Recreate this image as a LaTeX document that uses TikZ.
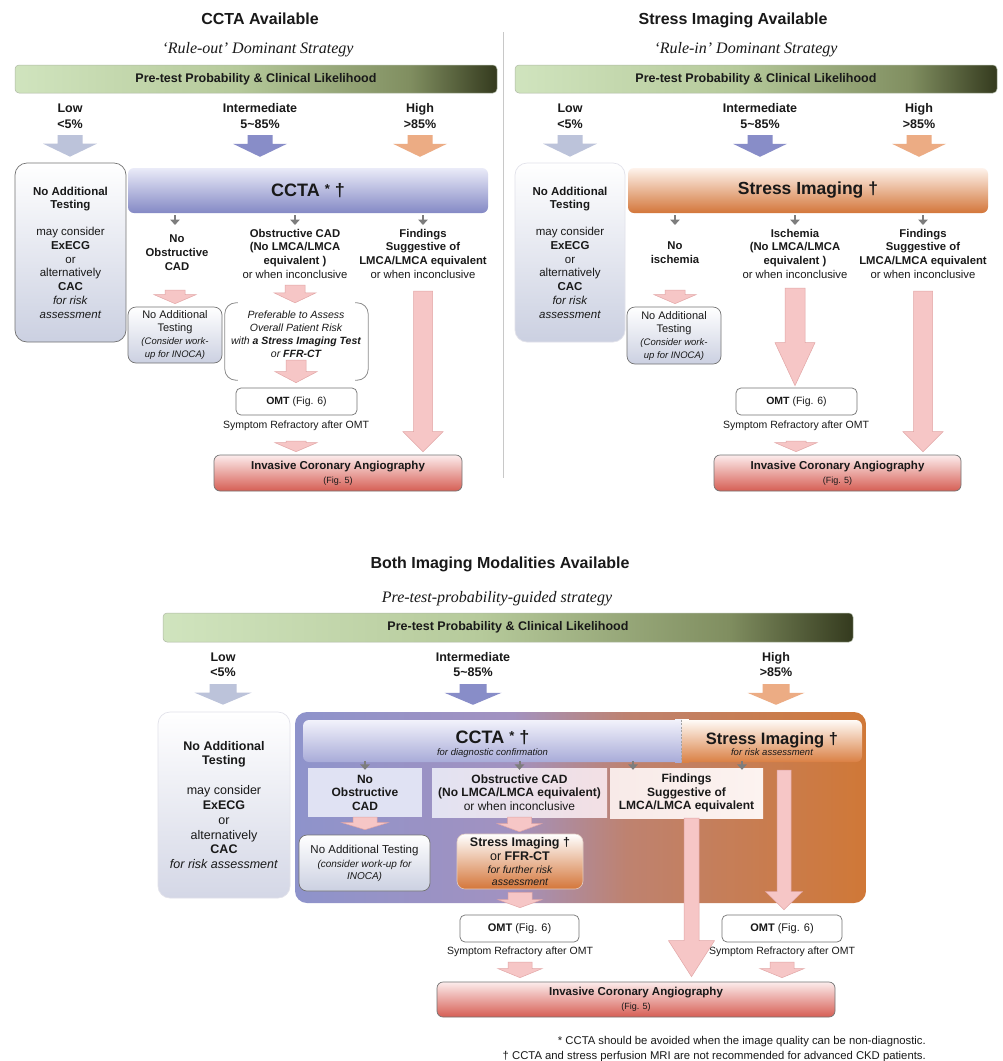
\documentclass[tikz,border=0pt]{standalone}
\usepackage{fontspec}
\setmainfont{Liberation Sans}
\newfontfamily\tnr{Liberation Serif}
\usetikzlibrary{arrows.meta,calc}
\newcommand\fs[2]{\fontsize{#1}{#2}\selectfont}
\newcommand\tld{\char"7E\relax}
\newcommand\rast{{\fs{13}{13}\raisebox{3pt}{*}}}
\definecolor{txt}{RGB}{25,25,25}
\definecolor{gbA}{RGB}{208,228,190}
\definecolor{gbB}{RGB}{182,202,155}
\definecolor{gbC}{RGB}{128,142,96}
\definecolor{gbD}{RGB}{52,58,30}
\definecolor{gbE}{RGB}{175,185,165}
\definecolor{lowC}{RGB}{188,195,218}
\definecolor{intC}{RGB}{136,141,200}
\definecolor{highC}{RGB}{236,172,132}
\definecolor{pinkF}{RGB}{246,198,198}
\definecolor{pinkD}{RGB}{226,166,166}
\definecolor{arrG}{RGB}{125,125,125}
\definecolor{cctaT}{RGB}{234,235,248}
\definecolor{cctaB}{RGB}{132,137,197}
\definecolor{stT}{RGB}{254,243,236}
\definecolor{stB}{RGB}{211,118,58}
\definecolor{boxD}{RGB}{115,115,115}
\definecolor{boxL}{RGB}{226,226,234}
\definecolor{boxBot}{RGB}{203,208,225}
\definecolor{icaT}{RGB}{252,236,236}
\definecolor{icaB}{RGB}{214,94,84}
\definecolor{brkC}{RGB}{140,140,140}
\definecolor{sepC}{RGB}{200,200,200}
\definecolor{cA}{RGB}{142,147,203}
\definecolor{cB}{RGB}{162,146,192}
\definecolor{cC}{RGB}{190,130,112}
\definecolor{cD}{RGB}{208,120,55}
\definecolor{bcT}{RGB}{242,242,251}
\definecolor{bcB}{RGB}{168,171,216}
\definecolor{bsT}{RGB}{255,251,247}
\definecolor{bsB}{RGB}{218,128,68}
\definecolor{noF}{RGB}{224,226,243}
\definecolor{obL}{RGB}{226,226,242}
\definecolor{obR}{RGB}{243,224,228}
\definecolor{fiL}{RGB}{248,234,232}
\definecolor{fiR}{RGB}{252,243,240}
\definecolor{bstB}{RGB}{212,118,58}
\definecolor{bstD}{RGB}{225,205,195}
\definecolor{lbBot}{RGB}{212,215,230}
\pgfdeclarehorizontalshading{greenbar}{100bp}{color(0bp)=(gbA); color(25bp)=(gbA); color(48bp)=(gbB); color(66bp)=(gbC); color(75bp)=(gbD); color(100bp)=(gbD)}
\pgfdeclarehorizontalshading{contshade}{100bp}{color(0bp)=(cA); color(25bp)=(cA); color(44bp)=(cB); color(54bp)=(cC); color(75bp)=(cD); color(100bp)=(cD)}
\begin{document}
\begin{tikzpicture}[x=1pt,y=-1pt,
  every node/.append style={text=txt,inner sep=0pt},
  fat/.style n args={3}{to path={let \p1=(\tikztostart), \p2=(\tikztotarget) in
     (\x1-#1,\y1) -- (\x1+#1,\y1) -- (\x1+#1,\y2+#3) -- (\x1+#2,\y2+#3) -- (\x1,\y2)
     -- (\x1-#2,\y2+#3) -- (\x1-#1,\y2+#3) -- cycle}},
  titl/.style={font=\bfseries\fs{16}{19}, anchor=base},
  subt/.style={font=\tnr\itshape\fs{16}{19}, anchor=base},
  ptp/.style={shade, shading=greenbar, draw=gbE, line width=0.5pt, rounded corners=4pt, font=\bfseries\fs{12.5}{15}},
  lab/.style={font=\bfseries\fs{12.5}{16}, align=center, anchor=north},
  tx/.style={font=\bfseries\fs{11.3}{13.7}, align=center, anchor=north},
  lbox/.style={rounded corners=12pt, top color=white, bottom color=boxBot, draw=boxD, line width=0.7pt, align=center, font=\fs{11.5}{13.7}},
  natbox/.style={rounded corners=8pt, top color=white, bottom color=boxBot, draw=boxD, line width=0.7pt, align=center, font=\fs{11}{13}},
  omtbox/.style={rounded corners=5pt, fill=white, draw=boxD, line width=0.7pt, font=\fs{10.5}{12}},
  icabox/.style={rounded corners=6pt, top color=icaT, bottom color=icaB, draw=boxD, line width=0.7pt, align=center, font=\fs{11.5}{14}},
  symt/.style={font=\fs{10.5}{12}, anchor=base},
  smallarr/.style={draw=arrG, line width=2.3pt, -{Triangle[length=5.5pt,width=9.5pt]}},
  pinkA/.style={fill=pinkF, draw=pinkD, line width=0.5pt},
  brk/.style={draw=brkC, line width=0.8pt, rounded corners=11pt},
  ctbar/.style={rounded corners=6pt, top color=cctaT, bottom color=cctaB, font=\bfseries\fs{18}{20}},
  stbar/.style={rounded corners=6pt, top color=stT, bottom color=stB, font=\bfseries\fs{17.5}{20}},
  catL/.style={fill=lowC, fat={12.5pt}{27pt}{13pt}},
  catI/.style={fill=intC, fat={12.5pt}{27pt}{13pt}},
  catH/.style={fill=highC, fat={12.5pt}{27pt}{13pt}},
  bcatL/.style={fill=lowC, fat={13.5pt}{28.5pt}{12pt}},
  bcatI/.style={fill=intC, fat={13.5pt}{28.5pt}{12pt}},
  bcatH/.style={fill=highC, fat={13.5pt}{28.5pt}{12pt}}
]
\fill[white] (0,0) rectangle (1003,1061);
\useasboundingbox (0,0) rectangle (1003,1061);

% separator
\draw[sepC, line width=0.8pt] (503,32) -- (503,478);

% ================= TOP LEFT =================
\node[titl] (tl-title) at (260,24.7) {CCTA Available};
\node[subt] (tl-sub) at (258,53.3) {‘Rule-out’ Dominant Strategy};
\node[ptp, minimum width=482pt, minimum height=28pt] (tl-bar) at (256,79) {Pre-test Probability \& Clinical Likelihood};
\node[lab] (tl-low) at (70,103.4) {Low\\<5\%};
\node[lab] (tl-int) at (260,103.4) {Intermediate\\5\tld85\%};
\node[lab] (tl-high) at (420,103.4) {High\\>85\%};

\node[lbox, minimum width=111pt, minimum height=179pt] (tl-left) at (70.5,252.5)
 {\textbf{No Additional}\\\textbf{Testing}\\[13.3pt]may consider\\\textbf{ExECG}\\or\\alternatively\\\textbf{CAC}\\\textit{for risk}\\\textit{assessment}};
\node[ctbar, minimum width=360pt, minimum height=45pt] (tl-ccta) at (308,190.5) {CCTA \rast\ †};

\path[catL] ([yshift=-31.6pt]tl-low.north) to ([yshift=6pt]tl-left.north);
\path[catI] ([yshift=-31.6pt]tl-int.north) to ([yshift=11pt]tl-ccta.north);
\path[catH] ([yshift=-31.6pt]tl-high.north) to ([yshift=11pt]tl-ccta.north);

\node[tx] (tl-noobs) at (177,234.8) {No\\Obstructive\\CAD};
\node[tx] (tl-obs) at (295,228.8) {Obstructive CAD\\(No LMCA/LMCA\\equivalent )\\\mdseries or when inconclusive};
\node[tx] (tl-find) at (423,228.8) {Findings\\Suggestive of\\LMCA/LMCA equivalent\\\mdseries or when inconclusive};
\draw[smallarr] ($(tl-ccta.south -| tl-noobs.north)+(-2,2)$) to ($(tl-noobs.north)+(-2,-9.8)$);
\draw[smallarr] ($(tl-ccta.south -| tl-obs.north)+(0,2)$) to ([yshift=3.8pt]tl-obs.north);
\draw[smallarr] ($(tl-ccta.south -| tl-find.north)+(0,2)$) to ([yshift=3.8pt]tl-find.north);

\node[natbox, minimum width=94pt, minimum height=56pt] (tl-nat) at (175,335)
 {No Additional\\Testing\\{\itshape\fs{9.5}{12}(Consider work-}\\{\itshape\fs{9.5}{12}up for INOCA)}};
\node[minimum width=143pt, minimum height=77pt] (tl-brk) at (296.5,341.5) {};
\draw[brk] ([xshift=13pt]tl-brk.north west) -- (tl-brk.north west) -- (tl-brk.south west) -- ([xshift=13pt]tl-brk.south west);
\draw[brk] ([xshift=-13pt]tl-brk.north east) -- (tl-brk.north east) -- (tl-brk.south east) -- ([xshift=-13pt]tl-brk.south east);
\node[font=\itshape\fs{10.5}{12.7}, align=center, anchor=north] (tl-pref) at (296,311.1)
 {Preferable to Assess\\Overall Patient Risk\\with {\bfseries a Stress Imaging Test}\\or {\bfseries FFR-CT}};
\node[omtbox, minimum width=121pt, minimum height=27pt] (tl-omt) at (296.5,401.5) {\textbf{OMT} (Fig. 6)};
\node[symt] (tl-sym) at (296,428.8) {Symptom Refractory after OMT};
\node[icabox, minimum width=248pt, minimum height=36pt] (tl-ica) at (338,473) {\textbf{Invasive Coronary Angiography}\\{\fs{9}{10}(Fig. 5)}};

\draw[pinkA, fat={10pt}{21pt}{9pt}] ($(tl-noobs.north)+(-2,55.2)$) to ([yshift=3pt]tl-nat.north);
\draw[pinkA, fat={10pt}{21pt}{10pt}] ([yshift=-56.2pt]tl-obs.north) to (tl-brk.north);
\draw[pinkA, fat={10pt}{21pt}{11pt}] ([yshift=-48.9pt]tl-pref.north) to ([yshift=5pt]tl-omt.north);
\draw[pinkA, fat={10pt}{21pt}{9pt}] ([yshift=-12.2pt]tl-sym.base) to ([yshift=3pt]tl-ica.north);
\draw[pinkA, fat={9.5pt}{20pt}{20pt}] ([yshift=-62.2pt]tl-find.north) to ([yshift=3pt]tl-ica.north);

% ================= TOP RIGHT =================
\node[titl] (tr-title) at (733,24.7) {Stress Imaging Available};
\node[subt] (tr-sub) at (746,53.3) {‘Rule-in’ Dominant Strategy};
\node[ptp, minimum width=482pt, minimum height=28pt] (tr-bar) at (756,79) {Pre-test Probability \& Clinical Likelihood};
\node[lab] (tr-low) at (570,103.4) {Low\\<5\%};
\node[lab] (tr-int) at (760,103.4) {Intermediate\\5\tld85\%};
\node[lab] (tr-high) at (919,103.4) {High\\>85\%};

\node[lbox, draw=boxL, minimum width=110pt, minimum height=179pt] (tr-left) at (570,252.5)
 {\textbf{No Additional}\\\textbf{Testing}\\[13.3pt]may consider\\\textbf{ExECG}\\or\\alternatively\\\textbf{CAC}\\\textit{for risk}\\\textit{assessment}};
\node[stbar, minimum width=360pt, minimum height=45pt] (tr-st) at (808,190.5) {Stress Imaging †};

\path[catL] ([yshift=-31.6pt]tr-low.north) to ([yshift=6pt]tr-left.north);
\path[catI] ([yshift=-31.6pt]tr-int.north) to ([yshift=11pt]tr-st.north);
\path[catH] ([yshift=-31.6pt]tr-high.north) to ([yshift=11pt]tr-st.north);

\node[tx] (tr-noisch) at (675,241.8) {No\\ischemia};
\node[tx] (tr-isch) at (795,228.8) {Ischemia\\(No LMCA/LMCA\\equivalent )\\\mdseries or when inconclusive};
\node[tx] (tr-find) at (923,228.8) {Findings\\Suggestive of\\LMCA/LMCA equivalent\\\mdseries or when inconclusive};
\draw[smallarr] ($(tr-st.south -| tr-noisch.north)+(0,2)$) to ([yshift=16.8pt]tr-noisch.north);
\draw[smallarr] ($(tr-st.south -| tr-isch.north)+(0,2)$) to ([yshift=3.8pt]tr-isch.north);
\draw[smallarr] ($(tr-st.south -| tr-find.north)+(0,2)$) to ([yshift=3.8pt]tr-find.north);

\node[natbox, minimum width=94pt, minimum height=57pt] (tr-nat) at (674,335.5)
 {No Additional\\Testing\\{\itshape\fs{9.5}{12}(Consider work-}\\{\itshape\fs{9.5}{12}up for INOCA)}};
\node[omtbox, minimum width=121pt, minimum height=27pt] (tr-omt) at (796.5,401.5) {\textbf{OMT} (Fig. 6)};
\node[symt] (tr-sym) at (796,428.8) {Symptom Refractory after OMT};
\node[icabox, minimum width=247pt, minimum height=36pt] (tr-ica) at (837.5,473) {\textbf{Invasive Coronary Angiography}\\{\fs{9}{10}(Fig. 5)}};

\draw[pinkA, fat={10pt}{21pt}{9pt}] ([yshift=-48.2pt]tr-noisch.north) to ([yshift=3pt]tr-nat.north);
\draw[pinkA, fat={10pt}{20pt}{43pt}] ([yshift=-59.2pt]tr-isch.north) to ([yshift=2pt]tr-omt.north);
\draw[pinkA, fat={10pt}{21pt}{9pt}] ([yshift=-12.2pt]tr-sym.base) to ([yshift=3pt]tr-ica.north);
\draw[pinkA, fat={9.5pt}{20pt}{20pt}] ([yshift=-62.2pt]tr-find.north) to ([yshift=3pt]tr-ica.north);

% ================= BOTTOM =================
\node[titl] (b-title) at (500,568.7) {Both Imaging Modalities Available};
\node[subt] (b-sub) at (497,602.3) {Pre-test-probability-guided strategy};
\node[ptp, minimum width=690pt, minimum height=29pt] (b-bar) at (508,627.5) {Pre-test Probability \& Clinical Likelihood};
\node[lab, font=\bfseries\fs{12.5}{15}] (b-low) at (223,652.4) {Low\\<5\%};
\node[lab, font=\bfseries\fs{12.5}{15}] (b-int) at (473,652.4) {Intermediate\\5\tld85\%};
\node[lab, font=\bfseries\fs{12.5}{15}] (b-high) at (776,652.4) {High\\>85\%};

\node[rounded corners=12pt, shade, shading=contshade, minimum width=571pt, minimum height=191pt] (b-cont) at (580.5,807.5) {};
\node[lbox, draw=boxL, bottom color=lbBot, font=\fs{12.5}{14.8}, minimum width=132pt, minimum height=186pt] (b-left) at (224,805)
 {\textbf{No Additional}\\\textbf{Testing}\\[15pt]may consider\\\textbf{ExECG}\\or\\alternatively\\\textbf{CAC}\\\textit{for risk assessment}};

\node[rounded corners=6pt, top color=bcT, bottom color=bcB, align=center, font=\fs{9.5}{11.6}, minimum width=379pt, minimum height=42pt] (b-ccta) at (492.5,741)
 {\rule{0pt}{19pt}{\bfseries\fs{18}{20}CCTA \rast\ †}\\{\itshape for diagnostic confirmation}};
\node[rounded corners=6pt, top color=bsT, bottom color=bsB, align=center, font=\fs{9.5}{11.6}, minimum width=180pt, minimum height=42pt] (b-sbar) at (772,741)
 {\rule{0pt}{18pt}{\bfseries\fs{16.5}{20}Stress Imaging †}\\{\itshape for risk assessment}};
\shade[top color=bcT, bottom color=bcB] ($(b-ccta.north east)+(-7,0)$) rectangle (b-ccta.south east);
\shade[top color=bsT, bottom color=bsB] (b-sbar.north west) rectangle ($(b-sbar.south west)+(7,0)$);
\draw[arrG!70, line width=1pt, dash pattern=on 2pt off 1.5pt] (b-sbar.north west) -- (b-sbar.south west);

\path[bcatL] ([yshift=-31.6pt]b-low.north) to ([yshift=7pt]b-left.north);
\path[bcatI] ([yshift=-31.6pt]b-int.north) to ([yshift=15pt]b-ccta.north);
\path[bcatH] ([yshift=-31.6pt]b-high.north) to ([yshift=15pt]b-sbar.north);

\node[fill=noF, align=center, font=\bfseries\fs{12}{13.5}, minimum width=114pt, minimum height=49pt] (b-noobs) at (365,792.5) {No\\Obstructive\\CAD};
\node[left color=obL, right color=obR, align=center, font=\bfseries\fs{12}{13.5}, minimum width=175pt, minimum height=49pt] (b-obs) at (519.5,792.5)
 {Obstructive CAD\\(No LMCA/LMCA equivalent)\\\mdseries or when inconclusive};
\node[left color=fiL, right color=fiR, align=center, font=\bfseries\fs{12}{13.5}, minimum width=153pt, minimum height=50pt] (b-find) at (686.5,793)
 {Findings\\Suggestive of\\LMCA/LMCA equivalent};
\coordinate (b-f1) at ($(b-find.north)+(-53.5,2)$);
\coordinate (b-f2) at ($(b-find.north)+(55.5,2)$);
\draw[smallarr, line width=2pt] ($(b-ccta.south -| b-noobs.north)+(0,-1)$) to ([yshift=-2pt]b-noobs.north);
\draw[smallarr, line width=2pt] ($(b-ccta.south -| b-obs.north)+(0,-1)$) to ([yshift=-2pt]b-obs.north);
\draw[smallarr, line width=2pt] ($(b-ccta.south -| b-f1)+(0,-1)$) to (b-f1);
\draw[smallarr, line width=2pt] ($(b-sbar.south -| b-f2)+(0,-1)$) to (b-f2);

\node[natbox, font=\fs{11.5}{14}, minimum width=131pt, minimum height=56pt] (b-nat) at (364.5,863)
 {No Additional Testing\\{\itshape\fs{10}{12}(consider work-up for}\\[-2pt]{\itshape\fs{10}{12}INOCA)}};
\node[rounded corners=8pt, top color=white, bottom color=bstB, draw=bstD, line width=0.6pt, align=center, font=\fs{12.5}{14}, minimum width=126pt, minimum height=55pt] (b-stress) at (520,861.5)
 {\textbf{Stress Imaging †}\\or \textbf{FFR-CT}\\[-1pt]{\itshape\fs{10.5}{12}for further risk}\\[-2pt]{\itshape\fs{10.5}{12}assessment}};
\node[omtbox, font=\fs{11}{12}, minimum width=119pt, minimum height=27pt] (b-omt1) at (519.5,928.5) {\textbf{OMT} (Fig. 6)};
\node[omtbox, font=\fs{11}{12}, minimum width=120pt, minimum height=27pt] (b-omt2) at (782,928.5) {\textbf{OMT} (Fig. 6)};
\node[symt] (b-sym1) at (520,954.8) {Symptom Refractory after OMT};
\node[symt] (b-sym2) at (782,954.8) {Symptom Refractory after OMT};
\node[icabox, minimum width=398pt, minimum height=35pt] (b-ica) at (636,999.5) {\textbf{Invasive Coronary Angiography}\\{\fs{9}{10}(Fig. 5)}};

\draw[pinkA, fat={12pt}{23pt}{7pt}] (b-noobs.south) to ([yshift=5pt]b-nat.north);
\draw[pinkA, fat={12pt}{22pt}{8pt}] (b-obs.south) to ([yshift=2pt]b-stress.north);
\draw[pinkA, fat={12pt}{22pt}{8pt}] ([yshift=-3pt]b-stress.south) to ([yshift=7pt]b-omt1.north);
\draw[pinkA, fat={12pt}{22pt}{9pt}] ([yshift=-7.2pt]b-sym1.base) to ([yshift=4pt]b-ica.north);
\draw[pinkA, fat={12pt}{22pt}{9pt}] ([yshift=-7.2pt]b-sym2.base) to ([yshift=4pt]b-ica.north);
\draw[pinkA, fat={7.5pt}{23pt}{36pt}] ($(b-find.south)+(5,0)$) to ([yshift=5pt]b-ica.north);
\draw[pinkA, fat={7pt}{18.5pt}{18pt}] ($(b-sbar.south -| b-omt2.north)+(2,8)$) to ([yshift=5pt]b-omt2.north);

\node[anchor=north east, align=right, font=\fs{11.3}{15}] (b-fn) at (926,1035.8)
 {* CCTA should be avoided when the image quality can be non-diagnostic.\\† CCTA and stress perfusion MRI are not recommended for advanced CKD patients.};
\end{tikzpicture}
\end{document}
